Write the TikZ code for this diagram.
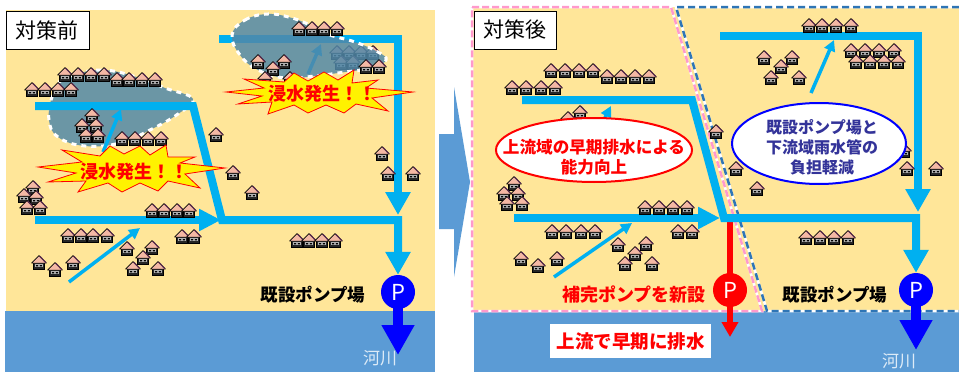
\documentclass[tikz,border=0pt]{standalone}
\usepackage{fontspec}
\newfontfamily\jp{Noto Sans CJK JP}
\usetikzlibrary{arrows.meta,shapes.geometric}
\definecolor{land}{HTML}{FFE699}
\definecolor{river}{HTML}{5B9BD5}
\definecolor{pipe}{HTML}{00B0F0}
\definecolor{water}{HTML}{5288A8}
\definecolor{roof}{HTML}{F4B8A4}
\definecolor{roofedge}{HTML}{5A2D4E}
\definecolor{pinkdash}{HTML}{FF99CC}
\definecolor{bluedash}{HTML}{2E75B6}
\definecolor{navytext}{HTML}{333399}
\definecolor{pumpblue}{HTML}{0000FF}
\definecolor{riverlbl}{HTML}{DDEBF7}
\newcommand\fsz[2]{\fontsize{#1}{#2}\selectfont}
\tikzset{
  hut/.pic={
    \begin{scope}[scale=1.12]
    \filldraw[fill=black!85, draw=black, line width=0.7pt] (-4.8,0) rectangle (4.8,6.8);
    \fill[black!30] (-3.5,2.0) rectangle (3.5,4.7);
    \fill[black] (-2.5,2.7) rectangle (-0.7,4.0) (0.7,2.7) rectangle (2.5,4.0);
    \filldraw[fill=roof, draw=black, line width=0.7pt, line join=round] (-6.6,1) -- (0,-5.8) -- (6.6,1) -- cycle;
    \draw[roofedge, line width=1.2pt] (0.6,-5.2) -- (6.2,0.6);
    \end{scope}
  },
  pipeline/.style={pipe, line width=8pt},
  pipetip/.style={-{Triangle[length=23pt,width=24pt]}},
  thinarrow/.style={pipe, line width=3.5pt, -{Triangle[length=11pt,width=11pt]}},
  flood/.style={fill=water, fill opacity=0.85},
  floodedge/.style={white, line width=3pt, dash pattern=on 5pt off 5pt},
  burst/.style={fill=yellow, draw=red, line width=0.8pt, line join=miter},
  burstlbl/.style={text=red, font={\jp\bfseries\fsz{18}{18}}},
  tagbox/.style={draw=black, line width=1pt, fill=white, minimum width=83pt, minimum height=38pt, inner sep=0pt, font={\jp\fsz{21}{21}}},
  pump/.style={circle, minimum size=34pt, inner sep=0pt, text=white, font={\jp\fsz{22}{22}}},
  blacklbl/.style={font={\jp\bfseries\fsz{17.5}{17.5}}},
  riverlbl/.style={text=riverlbl, font={\jp\fsz{17}{17}}},
  outflow/.style={pumpblue, line width=10pt, -{Triangle[length=30pt,width=31pt]}},
}
\begin{document}
\begin{tikzpicture}[x=1pt,y=-1pt]
\useasboundingbox (0,0) rectangle (959,372);
\clip (0,0) rectangle (959,372);
\fill[white] (0,0) rectangle (959,372);

% ---------- ground and river ----------
\fill[land] (6,10) rectangle (435,311);
\fill[river] (5,311) rectangle (435,372);
\fill[land] (473,7) rectangle (959,311);
\fill[river] (474,311) rectangle (959,372);

% ---------- transition arrow ----------
\fill[river] (439,134) -- (454,134) -- (454,87) -- (470,182) -- (454,277) -- (454,229) -- (439,229) -- cycle;

% ================= before =================
% flooded area (west)
\fill[flood] plot[smooth cycle, tension=0.7] coordinates {(62,80) (100,70) (140,78) (165,88) (193,99) (178,114) (150,130) (120,143) (85,146) (58,137) (49,120) (52,97)};
\draw[floodedge] plot[smooth cycle, tension=0.7] coordinates {(62,80) (100,70) (140,78) (165,88) (193,99) (178,114) (150,130) (120,143) (85,146) (58,137) (49,120) (52,97)};

% houses under water (east)
\foreach \p in {(337,52),(349,52),(361,52),(373,52),(341,62),(353,62)}
  \pic at \p {hut};

% sewer pipes
\coordinate (a1) at (35,106);
\coordinate (a2) at (193,106);
\coordinate (a3) at (222,220);
\coordinate (a4) at (398,220);
\coordinate (b1) at (35,220);
\coordinate (b2) at (221,220);
\coordinate (c1) at (219,39);
\coordinate (c2) at (398,39);
\coordinate (c3) at (398,215);
\node[pump, fill=pumpblue] (P1) at (398,292) {P};
\draw[pipeline, pipetip] (a1) -- (a2) -- (a3) -- (a4) -- (P1.north);
\draw[pipeline, -{Triangle[length=22pt,width=21pt]}] (b1) -- (b2);
\draw[pipeline, pipetip] (c1) -- (c2) -- (c3);

\coordinate (ta1) at (69,282);  \coordinate (ta2) at (140,228);
\coordinate (tb1) at (103,152); \coordinate (tb2) at (121,109);
\coordinate (tc1) at (308,74);  \coordinate (tc2) at (321,44);
\draw[thinarrow] (ta1) -- (ta2);
\draw[thinarrow] (tb1) -- (tb2);
\draw[thinarrow] (tc1) -- (tc2);

% flooded area (east)
\fill[flood] plot[smooth cycle, tension=0.7] coordinates {(232,35) (245,20) (268,14) (292,18) (312,26) (330,35) (355,42) (378,52) (386,60) (372,68) (345,72) (315,76) (285,78) (258,70) (240,55)};
\draw[floodedge] plot[smooth cycle, tension=0.7] coordinates {(232,35) (245,20) (268,14) (292,18) (312,26) (330,35) (355,42) (378,52) (386,60) (372,68) (345,72) (315,76) (285,78) (258,70) (240,55)};

% houses
\foreach \p in {(65,74),(78,74),(91,74),(104,74),
  (117,79),(129,79),(142,79),(155,79),
  (32,89),(45,89),(58,89),(71,89),
  (92,115),(82,125),(96,125),(86,135),(98,135),
  (122,138),(135,138),(148,138),(161,138),
  (216,134),(233,172),(252,192),
  (33,187),(24,195),(36,197),(27,207),(40,207),
  (152,210),(164,210),(177,210),(189,210),
  (68,235),(81,235),(93,235),(107,235),
  (182,236),(194,236),
  (39,262),(55,269),(73,262),
  (127,248),(152,247),(143,257),(133,268),(158,268),
  (297,240),(309,240),(322,240),(335,240),
  (382,153),(388,173),(413,173),
  (299,28),(312,28),(324,28),(337,28),
  (258,61),(284,61),(273,68),(265,78),(290,78),
  (366,66),(379,66)}
  \pic at \p {hut};

% flooding alerts
\filldraw[burst] (38,167) -- (82,162) -- (62,150) -- (100,156) -- (110,146) -- (124,154) -- (140,146) -- (150,155) -- (166,145) -- (168,157) -- (195,157) -- (180,163) -- (225,168) -- (185,174) -- (200,188) -- (168,181) -- (158,191) -- (140,183) -- (122,192) -- (108,183) -- (78,192) -- (86,181) -- (48,182) -- (76,173) -- cycle;
\node[burstlbl] (s1) at (134,172) {浸水発生！！};
\filldraw[burst] (226,92) -- (264,88) -- (244,79) -- (284,82) -- (294,73) -- (308,81) -- (324,72) -- (338,80) -- (354,70) -- (352,83) -- (378,80) -- (366,88) -- (413,92) -- (372,98) -- (388,111) -- (356,104) -- (344,113) -- (326,105) -- (308,113) -- (294,105) -- (268,114) -- (272,102) -- (238,104) -- (262,96) -- cycle;
\node[burstlbl] (s2) at (322,94) {浸水発生！！};

% pump station and outflow
\coordinate (o1) at (398,355);
\draw[outflow] ([yshift=3pt]P1.south) -- (o1);
\node[blacklbl] (pl1) at (313,295) {既設ポンプ場};
\node[riverlbl] (rv1) at (380,358) {河川};
\node[tagbox] (t1) at (47.5,30) {対策前};

% ================= after =================
% catchment boundaries
\draw[white, line width=2.5pt] (472,7) -- (671,7) -- (762,311) -- (472,311) -- cycle;
\draw[pinkdash, line width=2.5pt, dash pattern=on 7pt off 3pt] (472,7) -- (671,7) -- (762,311) -- (472,311) -- cycle;
\draw[white, line width=2.5pt] (959,7) -- (676,7) -- (767,311) -- (959,311);
\draw[bluedash, line width=2.5pt, dash pattern=on 7pt off 4pt] (959,7) -- (676,7) -- (767,311) -- (959,311);

% new upstream pump
\coordinate (r0) at (730,218);
\coordinate (r1) at (730,337);
\node[pump, fill=red] (P2) at (730,290) {P};
\draw[red, line width=6pt] (r0) -- ([yshift=-3pt]P2.north);
\draw[red, line width=6pt, -{Triangle[length=15pt,width=16pt]}] ([yshift=3pt]P2.south) -- (r1);

% sewer pipes
\coordinate (d1) at (522,100);
\coordinate (d2) at (692,100);
\coordinate (d3) at (724,218);
\coordinate (d4) at (916,218);
\coordinate (e1) at (514,218);
\coordinate (e2) at (720,218);
\coordinate (f1) at (720,36);
\coordinate (f2) at (918,36);
\coordinate (f3) at (918,212);
\node[pump, fill=pumpblue] (P3) at (916,290) {P};
\draw[pipeline, pipetip] (d1) -- (d2) -- (d3) -- (d4) -- (P3.north);
\draw[pipeline, -{Triangle[length=22pt,width=21pt]}] (e1) -- (e2);
\draw[pipeline, pipetip] (f1) -- (f2) -- (f3);

\coordinate (td1) at (554,277); \coordinate (td2) at (632,223);
\coordinate (te1) at (590,147); \coordinate (te2) at (611,106);
\coordinate (tf1) at (811,93);  \coordinate (tf2) at (834,40);
\draw[thinarrow] (td1) -- (td2);
\draw[thinarrow] (te1) -- (te2);
\draw[thinarrow] (tf1) -- (tf2);

% houses
\foreach \p in {(551,70),(565,70),(579,70),(593,70),
  (607,76),(621,76),(635,76),(649,76),
  (512,87),(526,87),(541,87),(555,87),
  (580,112),(568,118),
  (716,131),(736,168),(757,188),
  (514,183),(504,193),(518,193),(507,203),(522,203),
  (645,207),(659,207),(673,207),(687,207),
  (552,231),(566,231),(581,231),(595,231),
  (678,231),(692,231),
  (521,258),(538,265),(557,258),
  (618,244),(646,243),(635,253),(625,263),(652,263),
  (806,237),(820,237),(834,237),(848,237),
  (809,25),(822,25),(836,25),(851,25),
  (764,57),(792,57),(781,66),(771,77),(799,77),
  (851,50),(865,50),(879,50),(894,50),
  (856,61),(870,61),(884,61),(898,61),
  (904,150),(907,168),(936,168)}
  \pic at \p {hut};

% effect callouts
\node[ellipse, draw=red, line width=2pt, fill=white, minimum width=196pt, minimum height=64pt, inner sep=0pt] (el1) at (594,150) {};
\node[align=center, text=red, font={\jp\bfseries\fsz{16.6}{20}}] (el1t) at (594,157) {上流域の早期排水による\\能力向上};
\node[ellipse, draw=pumpblue, line width=2pt, fill=white, minimum width=174pt, minimum height=81pt, inner sep=0pt] (el2) at (819,143.5) {};
\node[align=center, text=navytext, font={\jp\bfseries\fsz{16}{20}}] (el2t) at (822,147) {既設ポンプ場と\\下流域雨水管の\\負担軽減};

% pump labels and outflow
\coordinate (o2) at (916,350);
\draw[outflow] ([yshift=3pt]P3.south) -- (o2);
\node[blacklbl] (pl2) at (835,295) {既設ポンプ場};
\node[text=red, font={\jp\bfseries\fsz{18}{18}}] (pl3) at (634,295) {補完ポンプを新設};
\node[fill=white, minimum width=161pt, minimum height=34pt, inner sep=0pt, text=red, font={\jp\bfseries\fsz{18.5}{18.5}}] (up) at (630.5,341) {上流で早期に排水};
\node[riverlbl] (rv2) at (899,361) {河川};
\node[tagbox, minimum width=82pt] (t2) at (515,30) {対策後};
\end{tikzpicture}
\end{document}
